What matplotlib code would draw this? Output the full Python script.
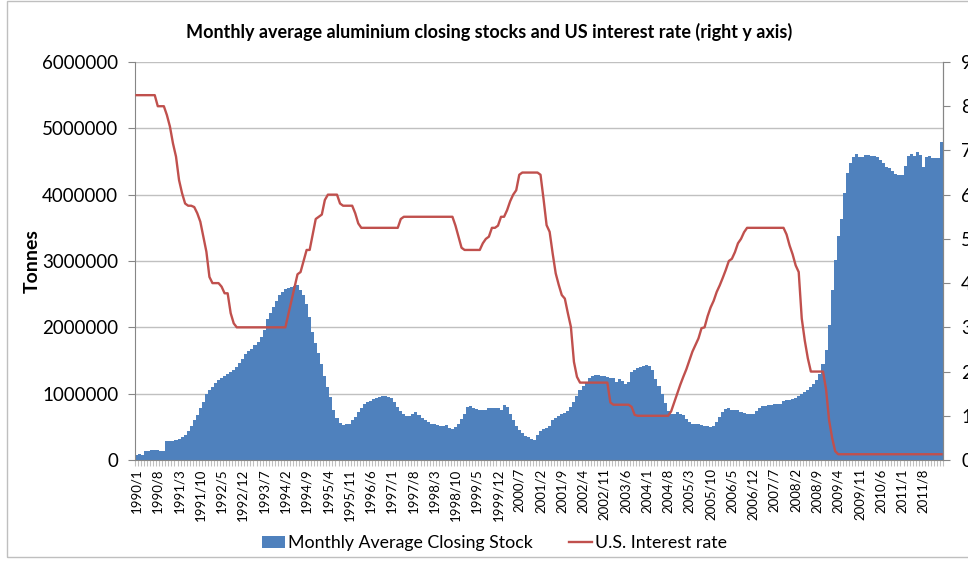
import numpy as np
import matplotlib
matplotlib.use('Agg')
import matplotlib.pyplot as plt
from matplotlib.patches import Rectangle

plt.rcParams['font.family'] = ['Lato', 'DejaVu Sans']

# monthly average LME aluminium closing stock, million tonnes, 1990/1 .. 2012/2
stock_mt = [
    0.08, 0.09, 0.08, 0.13, 0.14, 0.15, 0.15, 0.15, 0.13, 0.13,
    0.28, 0.29, 0.29, 0.30, 0.32, 0.35, 0.38, 0.44, 0.52, 0.60,
    0.68, 0.78, 0.88, 1.00, 1.06, 1.10, 1.16, 1.20, 1.24, 1.27,
    1.30, 1.33, 1.36, 1.40, 1.46, 1.53, 1.60, 1.65, 1.68, 1.73,
    1.78, 1.86, 1.96, 2.12, 2.22, 2.31, 2.40, 2.48, 2.54, 2.58,
    2.60, 2.61, 2.63, 2.64, 2.57, 2.48, 2.35, 2.16, 1.93, 1.77,
    1.62, 1.44, 1.27, 1.10, 0.95, 0.76, 0.63, 0.56, 0.53, 0.54,
    0.55, 0.60, 0.65, 0.72, 0.78, 0.84, 0.87, 0.89, 0.92, 0.94,
    0.95, 0.96, 0.96, 0.95, 0.93, 0.87, 0.80, 0.74, 0.69, 0.67,
    0.67, 0.70, 0.72, 0.68, 0.64, 0.60, 0.57, 0.55, 0.54, 0.53,
    0.52, 0.51, 0.53, 0.48, 0.47, 0.50, 0.55, 0.62, 0.70, 0.80,
    0.81, 0.79, 0.77, 0.76, 0.75, 0.76, 0.78, 0.78, 0.79, 0.78,
    0.76, 0.83, 0.80, 0.70, 0.61, 0.52, 0.45, 0.40, 0.36, 0.34,
    0.32, 0.30, 0.38, 0.44, 0.47, 0.48, 0.52, 0.60, 0.64, 0.66,
    0.69, 0.71, 0.74, 0.80, 0.88, 0.97, 1.05, 1.12, 1.18, 1.24,
    1.27, 1.28, 1.28, 1.27, 1.26, 1.25, 1.24, 1.23, 1.18, 1.22,
    1.19, 1.14, 1.17, 1.32, 1.36, 1.38, 1.40, 1.42, 1.43, 1.42,
    1.35, 1.22, 1.12, 1.00, 0.86, 0.74, 0.70, 0.70, 0.72, 0.70,
    0.68, 0.62, 0.57, 0.55, 0.55, 0.54, 0.53, 0.52, 0.51, 0.50,
    0.52, 0.57, 0.65, 0.72, 0.77, 0.78, 0.76, 0.76, 0.75, 0.73,
    0.71, 0.70, 0.69, 0.70, 0.74, 0.78, 0.81, 0.82, 0.83, 0.83,
    0.84, 0.85, 0.85, 0.89, 0.91, 0.91, 0.92, 0.94, 0.97, 1.00,
    1.03, 1.06, 1.10, 1.15, 1.20, 1.30, 1.45, 1.66, 2.03, 2.56,
    3.02, 3.37, 3.63, 4.02, 4.32, 4.47, 4.57, 4.61, 4.57, 4.57,
    4.60, 4.60, 4.58, 4.58, 4.57, 4.53, 4.48, 4.42, 4.40, 4.35,
    4.31, 4.29, 4.29, 4.43, 4.58, 4.61, 4.59, 4.65, 4.60, 4.42,
    4.57, 4.58, 4.56, 4.55, 4.55, 4.80,
]

# US interest rate, percent, same months
rate = [
    8.25, 8.25, 8.25, 8.25, 8.25, 8.25, 8.25, 8.00, 8.00, 8.00,
    7.80, 7.54, 7.16, 6.86, 6.33, 6.03, 5.80, 5.75, 5.75, 5.72,
    5.58, 5.39, 5.05, 4.71, 4.14, 4.00, 4.00, 4.00, 3.92, 3.77,
    3.77, 3.32, 3.09, 3.00, 3.00, 3.00, 3.00, 3.00, 3.00, 3.00,
    3.00, 3.00, 3.00, 3.00, 3.00, 3.00, 3.00, 3.00, 3.00, 3.00,
    3.30, 3.60, 3.90, 4.20, 4.25, 4.50, 4.75, 4.75, 5.10, 5.45,
    5.50, 5.55, 5.88, 6.00, 6.00, 6.00, 6.00, 5.80, 5.75, 5.75,
    5.75, 5.75, 5.58, 5.35, 5.25, 5.25, 5.25, 5.25, 5.25, 5.25,
    5.25, 5.25, 5.25, 5.25, 5.25, 5.25, 5.25, 5.45, 5.50, 5.50,
    5.50, 5.50, 5.50, 5.50, 5.50, 5.50, 5.50, 5.50, 5.50, 5.50,
    5.50, 5.50, 5.50, 5.50, 5.50, 5.30, 5.05, 4.80, 4.75, 4.75,
    4.75, 4.75, 4.75, 4.75, 4.90, 5.00, 5.05, 5.25, 5.25, 5.30,
    5.50, 5.50, 5.65, 5.85, 6.00, 6.10, 6.45, 6.50, 6.50, 6.50,
    6.50, 6.50, 6.50, 6.45, 5.90, 5.31, 5.16, 4.67, 4.22, 3.96,
    3.73, 3.65, 3.32, 3.01, 2.22, 1.88, 1.75, 1.75, 1.75, 1.75,
    1.75, 1.75, 1.75, 1.75, 1.75, 1.75, 1.30, 1.25, 1.25, 1.25,
    1.25, 1.25, 1.25, 1.20, 1.02, 1.00, 1.00, 1.00, 1.00, 1.00,
    1.00, 1.00, 1.00, 1.00, 1.00, 1.00, 1.10, 1.30, 1.50, 1.70,
    1.88, 2.05, 2.25, 2.45, 2.60, 2.75, 2.98, 3.00, 3.25, 3.45,
    3.60, 3.80, 3.95, 4.12, 4.30, 4.50, 4.55, 4.70, 4.90, 5.00,
    5.15, 5.25, 5.25, 5.25, 5.25, 5.25, 5.25, 5.25, 5.25, 5.25,
    5.25, 5.25, 5.25, 5.25, 5.10, 4.85, 4.65, 4.40, 4.25, 3.20,
    2.70, 2.30, 2.00, 2.00, 2.00, 2.00, 2.00, 1.60, 0.90, 0.50,
    0.20, 0.13, 0.13, 0.13, 0.13, 0.13, 0.13, 0.13, 0.13, 0.13,
    0.13, 0.13, 0.13, 0.13, 0.13, 0.13, 0.13, 0.13, 0.13, 0.13,
    0.13, 0.13, 0.13, 0.13, 0.13, 0.13, 0.13, 0.13, 0.13, 0.13,
    0.13, 0.13, 0.13, 0.13, 0.13, 0.13,
]

# category labels shown on the x axis (every 7th month)
tick_labels = [
    '1990/1', '1990/8', '1991/3', '1991/10', '1992/5', '1992/12', '1993/7',
    '1994/2', '1994/9', '1995/4', '1995/11', '1996/6', '1997/1', '1997/8',
    '1998/3', '1998/10', '1999/5', '1999/12', '2000/7', '2001/2', '2001/9',
    '2002/4', '2002/11', '2003/6', '2004/1', '2004/8', '2005/3', '2005/10',
    '2006/5', '2006/12', '2007/7', '2008/2', '2008/9', '2009/4', '2009/11',
    '2010/6', '2011/1', '2011/8',
]

blue = '#4F81BD'
red = '#C0504D'
grid = '#c0c0c0'
axis_grey = '#868686'

stock = np.array(stock_mt) * 1e6
x = np.arange(len(stock))

fig = plt.figure(figsize=(9.68, 5.61), dpi=100)
fig.patches.append(Rectangle((0.007, 0.008), 1.1, 0.99, transform=fig.transFigure,
                             facecolor='none', edgecolor='#bfbfbf', linewidth=1.0))

ax = fig.add_axes([135 / 968, 1 - 460 / 561, 808 / 968, 398 / 561])
ax.bar(x, stock, width=1.0, color=blue, linewidth=0, label='Monthly Average Closing Stock', zorder=2)
ax.set_xlim(-0.5, len(stock) - 0.5)
ax.set_ylim(0, 6000000)
ax.set_yticks(np.arange(0, 6000001, 1000000))
ax.set_yticklabels([str(v) for v in range(0, 6000001, 1000000)], fontsize=13.5)
ax.yaxis.grid(True, color=grid, linewidth=1.0, zorder=0)
ax.set_axisbelow(True)
ax.set_ylabel('Tonnes', fontsize=14, fontweight='bold', labelpad=1)

ax.set_xticks(x[::7])
ax.set_xticklabels(tick_labels, rotation=90, fontsize=9.5)
ax.set_xticks(np.arange(-0.5, len(stock), 1.0), minor=True)
ax.tick_params(axis='x', which='major', length=0, pad=6)
ax.tick_params(axis='x', which='minor', length=4, color=grid, width=0.8)
ax.tick_params(axis='y', length=5, color=axis_grey, pad=7)

ax.spines['top'].set_visible(False)
for side in ['left', 'bottom', 'right']:
    ax.spines[side].set_color(axis_grey)

ax2 = ax.twinx()
ax2.plot(x, rate, color=red, linewidth=1.7, label='U.S. Interest rate', zorder=3)
ax2.set_ylim(0, 9)
ax2.set_yticks(range(0, 10))
ax2.tick_params(axis='y', length=5, color=axis_grey, labelsize=13.5, pad=8)
ax2.spines['top'].set_visible(False)
ax2.spines['right'].set_color(axis_grey)
ax2.spines['left'].set_visible(False)
ax2.spines['bottom'].set_visible(False)

fig.text(0.505, 1 - 32 / 561, 'Monthly average aluminium closing stocks and US interest rate (right y axis)',
         ha='center', va='center', fontsize=13, fontweight='bold')

h1, l1 = ax.get_legend_handles_labels()
h2, l2 = ax2.get_legend_handles_labels()
fig.legend(h1 + h2, l1 + l2, loc='center', bbox_to_anchor=(0.511, 1 - 543 / 561), ncol=2,
           frameon=False, fontsize=12.8, handlelength=1.3, handleheight=0.7,
           handletextpad=0.2, columnspacing=2.0)

fig.savefig('out.png', dpi=100)
